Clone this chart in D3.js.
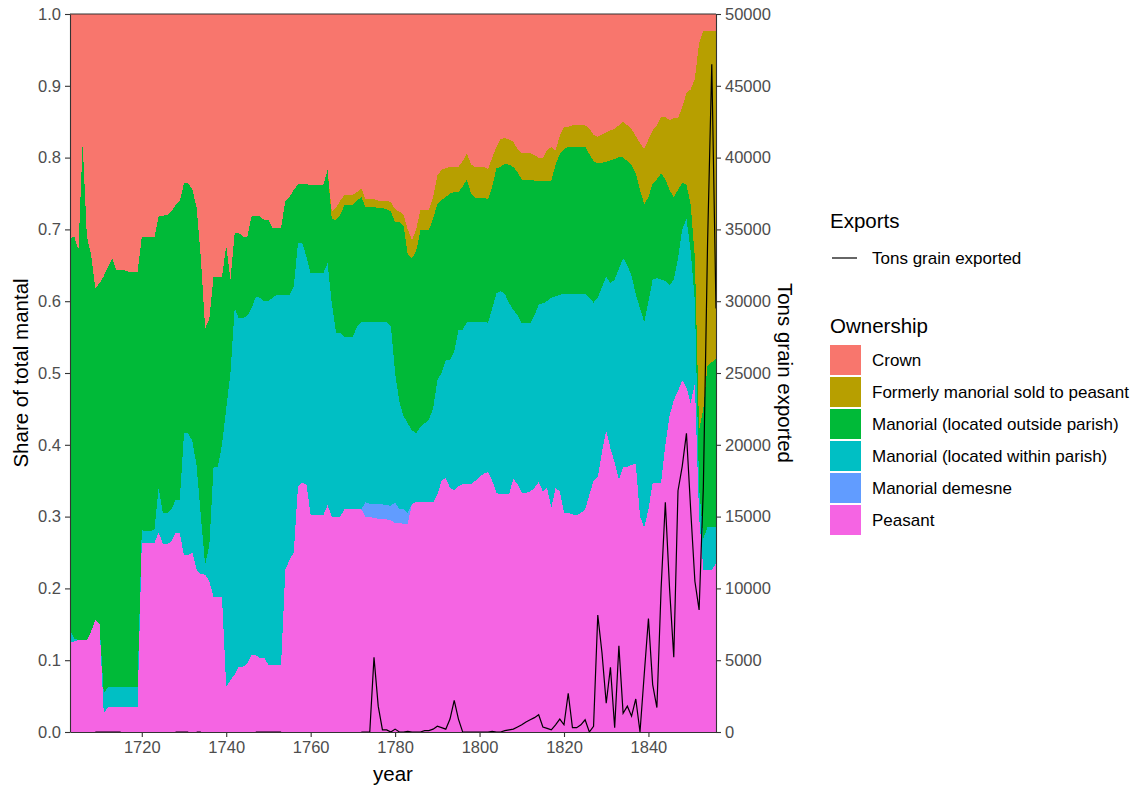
<!DOCTYPE html>
<html>
<head>
<meta charset="utf-8">
<script src="https://cdn.jsdelivr.net/npm/d3@7"></script>
<style>
  body { margin: 0; background: #ffffff; }
  svg text { font-family: "Liberation Sans", Arial, sans-serif; }
</style>
</head>
<body>
<svg id="chart" width="1140" height="787"></svg>
<script>
// ---- Data: share of total mantal by ownership type, 1703–1856 ----
const years = d3.range(1703, 1857);

const peasant = [
  .124,.126,.128,.128,.128,.140,.156,.150,.026,.035,
  .035,.035,.035,.035,.035,.035,.035,.263,.263,.263,
  .263,.278,.262,.262,.265,.277,.277,.246,.246,.250,
  .226,.220,.219,.210,.188,.188,.188,.063,.072,.080,
  .091,.091,.095,.107,.107,.103,.103,.094,.094,.094,
  .094,.226,.240,.250,.342,.347,.345,.302,.302,.302,
  .302,.316,.300,.300,.300,.310,.310,.310,.310,.310,
  .300,.300,.298,.297,.297,.296,.295,.291,.291,.290,
  .290,.318,.320,.320,.320,.320,.320,.330,.350,.354,
  .340,.337,.342,.345,.345,.345,.350,.355,.360,.362,
  .350,.333,.331,.331,.331,.353,.345,.333,.333,.335,
  .340,.348,.335,.340,.312,.340,.335,.305,.305,.303,
  .302,.305,.310,.330,.350,.355,.390,.420,.395,.375,
  .351,.369,.369,.372,.374,.300,.285,.310,.347,.347,
  .347,.400,.440,.462,.475,.490,.480,.458,.486,.300,
  .226,.226,.226,.235
];

const demesne = [
  0,0,0,0,0,0,0,0,0,0,
  0,0,0,0,0,0,0,0,0,0,
  0,0,0,0,0,0,0,0,0,0,
  0,0,0,0,0,0,0,0,0,0,
  0,0,0,0,0,0,0,0,0,0,
  0,0,0,0,0,0,0,0,0,0,
  0,0,0,0,0,0,0,0,0,0,
  .020,.018,.020,.020,.020,.020,.020,.029,.019,.020,
  .015,0,0,0,0,0,0,0,0,0,
  0,0,0,0,0,0,0,0,0,0,
  0,0,0,0,0,0,0,0,0,0,
  0,0,0,0,0,0,0,0,0,0,
  0,0,0,0,0,0,0,0,0,0,
  0,0,0,0,0,0,0,0,0,0,
  0,0,0,0,0,0,0,0,0,0,
  0,0,0,0
];

const withinParish = [
  .018,.004,0,0,0,0,0,0,.028,.028,
  .028,.028,.028,.028,.028,.028,.028,.018,.017,.017,
  .019,.062,.043,.043,.045,.046,.046,.170,.170,.155,
  .144,.080,.014,.050,.181,.181,.212,.387,.428,.510,
  .485,.485,.485,.483,.499,.502,.497,.506,.511,.515,
  .515,.383,.369,.370,.339,.334,.317,.337,.337,.337,
  .337,.337,.297,.256,.256,.240,.240,.240,.255,.261,
  .251,.253,.253,.254,.254,.255,.250,.180,.150,.130,
  .125,.102,.096,.105,.110,.115,.130,.160,.150,.164,
  .178,.193,.218,.215,.226,.226,.221,.216,.211,.208,
  .240,.278,.283,.279,.266,.235,.235,.236,.236,.234,
  .240,.247,.262,.260,.293,.267,.274,.305,.305,.307,
  .308,.305,.300,.275,.248,.250,.230,.214,.230,.255,
  .294,.291,.281,.263,.236,.290,.286,.290,.283,.285,
  .283,.228,.182,.168,.185,.210,.235,.212,.114,.040,
  .044,.059,.059,.050
];

const outsideParish = [
  .545,.560,.544,.692,.562,.525,.462,.475,.581,.585,
  .597,.580,.580,.580,.578,.578,.578,.408,.409,.409,
  .407,.379,.414,.415,.415,.411,.417,.348,.348,.350,
  .360,.360,.329,.315,.265,.265,.234,.227,.130,.105,
  .119,.114,.110,.128,.112,.113,.113,.113,.097,.093,
  .093,.131,.136,.135,.082,.082,.101,.123,.123,.123,
  .123,.130,.118,.157,.164,.184,.184,.184,.175,.174,
  .160,.160,.160,.159,.159,.157,.160,.210,.250,.265,
  .235,.240,.254,.274,.269,.264,.265,.245,.241,.227,
  .232,.222,.192,.200,.198,.179,.173,.173,.173,.172,
  .170,.174,.173,.182,.193,.199,.200,.200,.200,.200,
  .188,.173,.171,.168,.163,.183,.196,.202,.205,.205,
  .205,.205,.205,.200,.197,.187,.173,.160,.171,.168,
  .156,.140,.145,.155,.168,.165,.164,.145,.134,.138,
  .148,.142,.133,.115,.095,.065,.047,.065,.060,.080,
  .180,.225,.230,.235
];

const soldToPeasant = [
  0,0,0,0,0,0,0,0,0,0,
  0,0,0,0,0,0,0,0,0,0,
  0,0,0,0,0,0,0,0,0,0,
  0,0,0,0,0,0,0,0,0,0,
  0,0,0,0,0,0,0,0,0,0,
  0,0,0,0,0,0,0,0,0,0,
  0,0,.010,.017,.020,.014,.014,.014,.012,.012,
  .011,.011,.011,.010,.010,.012,.013,.018,.015,.015,
  .035,.025,.030,.028,.028,.028,.030,.040,.042,.040,
  .037,.035,.035,.035,.037,.040,.043,.043,.043,.042,
  .040,.030,.039,.035,.035,.035,.032,.037,.037,.037,
  .035,.032,.032,.042,.047,.020,.025,.031,.028,.030,
  .030,.030,.030,.035,.037,.037,.039,.041,.042,.042,
  .044,.050,.050,.050,.052,.065,.077,.080,.074,.075,
  .079,.087,.097,.110,.100,.105,.128,.160,.250,.540,
  .527,.467,.462,.457
];

const crown = [
  .313,.310,.328,.180,.310,.335,.382,.375,.365,.352,
  .340,.357,.357,.357,.359,.359,.359,.311,.311,.311,
  .311,.281,.281,.280,.275,.266,.260,.236,.236,.245,
  .270,.340,.438,.425,.366,.366,.366,.323,.370,.305,
  .305,.310,.310,.282,.282,.282,.287,.287,.298,.298,
  .298,.260,.255,.245,.237,.237,.237,.238,.238,.238,
  .238,.217,.275,.270,.260,.252,.252,.252,.248,.243,
  .258,.258,.258,.260,.260,.260,.262,.272,.275,.280,
  .300,.315,.300,.273,.273,.273,.255,.225,.217,.215,
  .213,.213,.213,.205,.194,.210,.213,.213,.213,.216,
  .200,.185,.174,.173,.175,.178,.188,.194,.194,.194,
  .197,.200,.200,.190,.185,.190,.170,.157,.157,.155,
  .155,.155,.155,.160,.168,.171,.168,.165,.162,.160,
  .155,.150,.155,.160,.170,.180,.188,.175,.162,.155,
  .143,.143,.148,.145,.145,.130,.110,.105,.090,.040,
  .023,.023,.023,.023
];

// Tons of grain exported (null = no record)
const tonsExported = [
  null,null,null,null,null,null,0,0,0,0,
  0,0,0,null,null,null,null,null,null,null,
  null,null,null,null,null,0,0,0,0,null,
  0,0,null,null,null,null,null,null,null,null,
  null,null,null,null,0,0,0,0,0,0,
  0,null,null,null,null,null,null,null,null,null,
  null,null,null,null,null,null,null,null,null,0,
  0,0,5200,1800,150,150,0,200,0,0,
  50,0,0,0,100,100,200,400,300,200,
  900,2200,900,0,0,0,0,0,0,0,
  50,0,0,100,150,200,350,500,700,850,
  1000,1200,350,250,150,500,900,500,2700,300,
  300,500,850,0,400,8150,5500,2000,4500,300,
  6000,1300,1800,1100,2300,0,4000,7900,3300,1700,
  10000,16000,10000,5200,16800,18500,20800,15500,10500,8500,
  17000,34000,46500,29500
];

// Stack order, bottom to top
const seriesNames = [
  "Peasant",
  "Manorial demesne",
  "Manorial (located within parish)",
  "Manorial (located outside parish)",
  "Formerly manorial sold to peasant",
  "Crown"
];
const seriesValues = [peasant, demesne, withinParish, outsideParish, soldToPeasant, crown];
const seriesColors = ["#F564E3", "#619CFF", "#00BFC4", "#00BA38", "#B79F00", "#F8766D"];

const xTickValues = [1720, 1740, 1760, 1780, 1800, 1820, 1840];
const leftTickValues = [0, 0.1, 0.2, 0.3, 0.4, 0.5, 0.6, 0.7, 0.8, 0.9, 1.0];
const rightTickValues = [0, 5000, 10000, 15000, 20000, 25000, 30000, 35000, 40000, 45000, 50000];

// ---- Layout ----
const svg = d3.select("#chart");
const plot = { left: 70, right: 716, top: 14, bottom: 732 };

const x = d3.scaleLinear().domain([1703, 1856]).range([plot.left, plot.right]);
const y = d3.scaleLinear().domain([0, 1]).range([plot.bottom, plot.top]);
const y2 = d3.scaleLinear().domain([0, 50000]).range([plot.bottom, plot.top]);

const rows = years.map((yr, i) => {
  const r = { year: yr };
  seriesNames.forEach((name, j) => { r[name] = seriesValues[j][i]; });
  return r;
});

const layers = d3.stack().keys(seriesNames)(rows);

const area = d3.area()
  .x(d => x(d.data.year))
  .y0(d => y(d[0]))
  .y1(d => y(d[1]));

svg.append("g")
  .selectAll("path")
  .data(layers)
  .join("path")
  .attr("d", area)
  .attr("fill", (d, i) => seriesColors[i])
  .attr("shape-rendering", "crispEdges");

// Exports line on the secondary axis
const exportLine = d3.line()
  .defined(d => d.v !== null)
  .x(d => x(d.year))
  .y(d => y2(d.v));

svg.append("path")
  .datum(years.map((yr, i) => ({ year: yr, v: tonsExported[i] })))
  .attr("d", exportLine)
  .attr("fill", "none")
  .attr("stroke", "#000")
  .attr("stroke-width", 1.2);

// ---- Axes ----
const tickText = g => g.selectAll("text")
  .attr("fill", "#4D4D4D")
  .attr("font-size", 16.5);
const tickLines = g => g.selectAll("line").attr("stroke", "#333").attr("stroke-width", 1.1);
const domainLine = g => g.select(".domain").attr("stroke", "#333").attr("stroke-width", 1.1);

svg.append("g")
  .attr("transform", `translate(${plot.left},0)`)
  .call(d3.axisLeft(y).tickValues(leftTickValues).tickFormat(d3.format(".1f"))
    .tickSize(5).tickSizeOuter(0).tickPadding(4))
  .call(tickText).call(tickLines).call(domainLine);

svg.append("g")
  .attr("transform", `translate(${plot.right},0)`)
  .call(d3.axisRight(y2).tickValues(rightTickValues).tickFormat(d3.format("d"))
    .tickSize(5).tickSizeOuter(0).tickPadding(4))
  .call(tickText).call(tickLines).call(domainLine);

svg.append("g")
  .attr("transform", `translate(0,${plot.bottom})`)
  .call(d3.axisBottom(x).tickValues(xTickValues).tickFormat(d3.format("d"))
    .tickSize(5).tickSizeOuter(0).tickPadding(4))
  .call(tickText).call(tickLines).call(domainLine);

svg.append("line")
  .attr("x1", plot.left).attr("x2", plot.right)
  .attr("y1", plot.top).attr("y2", plot.top)
  .attr("stroke", "#333").attr("stroke-width", 1.1);

// Axis titles
svg.append("text")
  .attr("x", (plot.left + plot.right) / 2)
  .attr("y", 781)
  .attr("text-anchor", "middle")
  .attr("font-size", 20.5)
  .text("year");

svg.append("text")
  .attr("transform", `translate(28,${(plot.top + plot.bottom) / 2}) rotate(-90)`)
  .attr("text-anchor", "middle")
  .attr("font-size", 20.5)
  .text("Share of total mantal");

svg.append("text")
  .attr("transform", `translate(778,${(plot.top + plot.bottom) / 2}) rotate(90)`)
  .attr("text-anchor", "middle")
  .attr("font-size", 20.5)
  .text("Tons grain exported");

// ---- Legends ----
const legend = svg.append("g");

legend.append("text")
  .attr("x", 830).attr("y", 228)
  .attr("font-size", 20.5)
  .text("Exports");

legend.append("line")
  .attr("x1", 832).attr("x2", 857)
  .attr("y1", 258).attr("y2", 258)
  .attr("stroke", "#000").attr("stroke-width", 1.2);

legend.append("text")
  .attr("x", 872).attr("y", 258).attr("dy", "0.35em")
  .attr("font-size", 17)
  .text("Tons grain exported");

legend.append("text")
  .attr("x", 830).attr("y", 333)
  .attr("font-size", 20.5)
  .text("Ownership");

const legendOrder = seriesNames.map((n, i) => ({ name: n, color: seriesColors[i] })).reverse();

const item = legend.selectAll("g.item")
  .data(legendOrder)
  .join("g")
  .attr("class", "item")
  .attr("transform", (d, i) => `translate(830,${345 + i * 32})`);

item.append("rect")
  .attr("width", 31).attr("height", 30)
  .attr("fill", d => d.color);

item.append("text")
  .attr("x", 42).attr("y", 15).attr("dy", "0.35em")
  .attr("font-size", 17)
  .text(d => d.name);
</script>
</body>
</html>
